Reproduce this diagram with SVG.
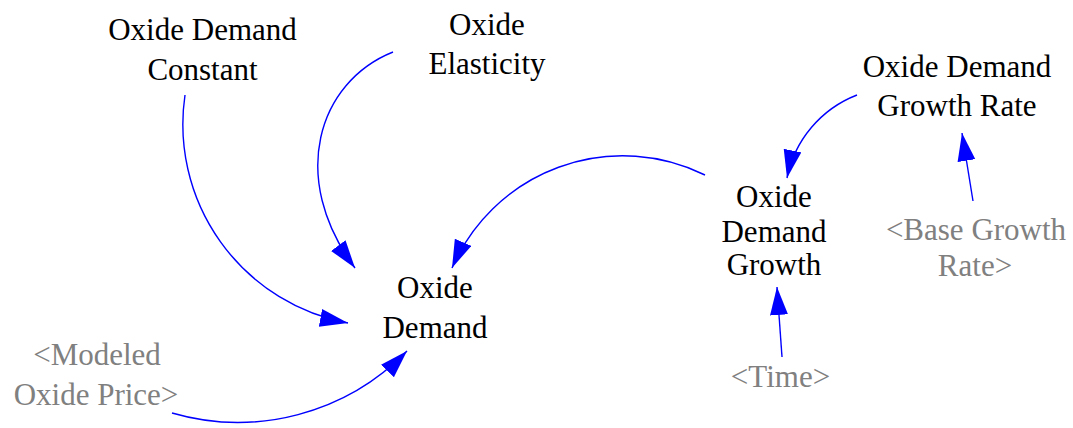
<svg xmlns="http://www.w3.org/2000/svg" width="1073" height="428" viewBox="0 0 1073 428">
<style>
text{font-family:"Liberation Serif","Times New Roman",serif;font-size:31px;text-anchor:middle;fill:#000}
.shadow text{fill:#808080}
.link{fill:none;stroke:#0000ff;stroke-width:1.4;marker-end:url(#ah)}
</style>
<defs>
<marker id="ah" markerUnits="userSpaceOnUse" markerWidth="30" markerHeight="20" refX="28" refY="9" orient="auto">
<path d="M0,0 L28,9 L0,18 z" fill="#0000ff"/>
</marker>
</defs>
<rect width="1073" height="428" fill="#fff"/>
<g id="connectors">
<path class="link" d="M185,95 A202,202 0 0 0 348,323"/>
<path class="link" d="M393,52 C318,82 288,178 355,268"/>
<path class="link" d="M705,175 A186,186 0 0 0 452,268"/>
<path class="link" d="M172,413 A236,236 0 0 0 407,351"/>
<path class="link" d="M857,95 A113,113 0 0 0 787,178"/>
<path class="link" d="M973,201 L962,133"/>
<path class="link" d="M782,357 L777,287"/>
</g>
<g id="oxide-demand-constant"><text x="202.5" y="40">Oxide Demand</text><text x="202.5" y="80">Constant</text></g>
<g id="oxide-elasticity"><text x="487" y="35">Oxide</text><text x="487" y="74">Elasticity</text></g>
<g id="oxide-demand"><text x="435" y="298">Oxide</text><text x="435" y="338">Demand</text></g>
<g id="modeled-oxide-price" class="shadow"><text x="97" y="365">&lt;Modeled</text><text x="96" y="405">Oxide Price&gt;</text></g>
<g id="oxide-demand-growth-rate"><text x="957" y="77">Oxide Demand</text><text x="957" y="116">Growth Rate</text></g>
<g id="oxide-demand-growth"><text x="774" y="207">Oxide</text><text x="774" y="242">Demand</text><text x="774" y="275">Growth</text></g>
<g id="base-growth-rate" class="shadow"><text x="976" y="240">&lt;Base Growth</text><text x="975" y="276">Rate&gt;</text></g>
<g id="time" class="shadow"><text x="780.5" y="387">&lt;Time&gt;</text></g>
</svg>
